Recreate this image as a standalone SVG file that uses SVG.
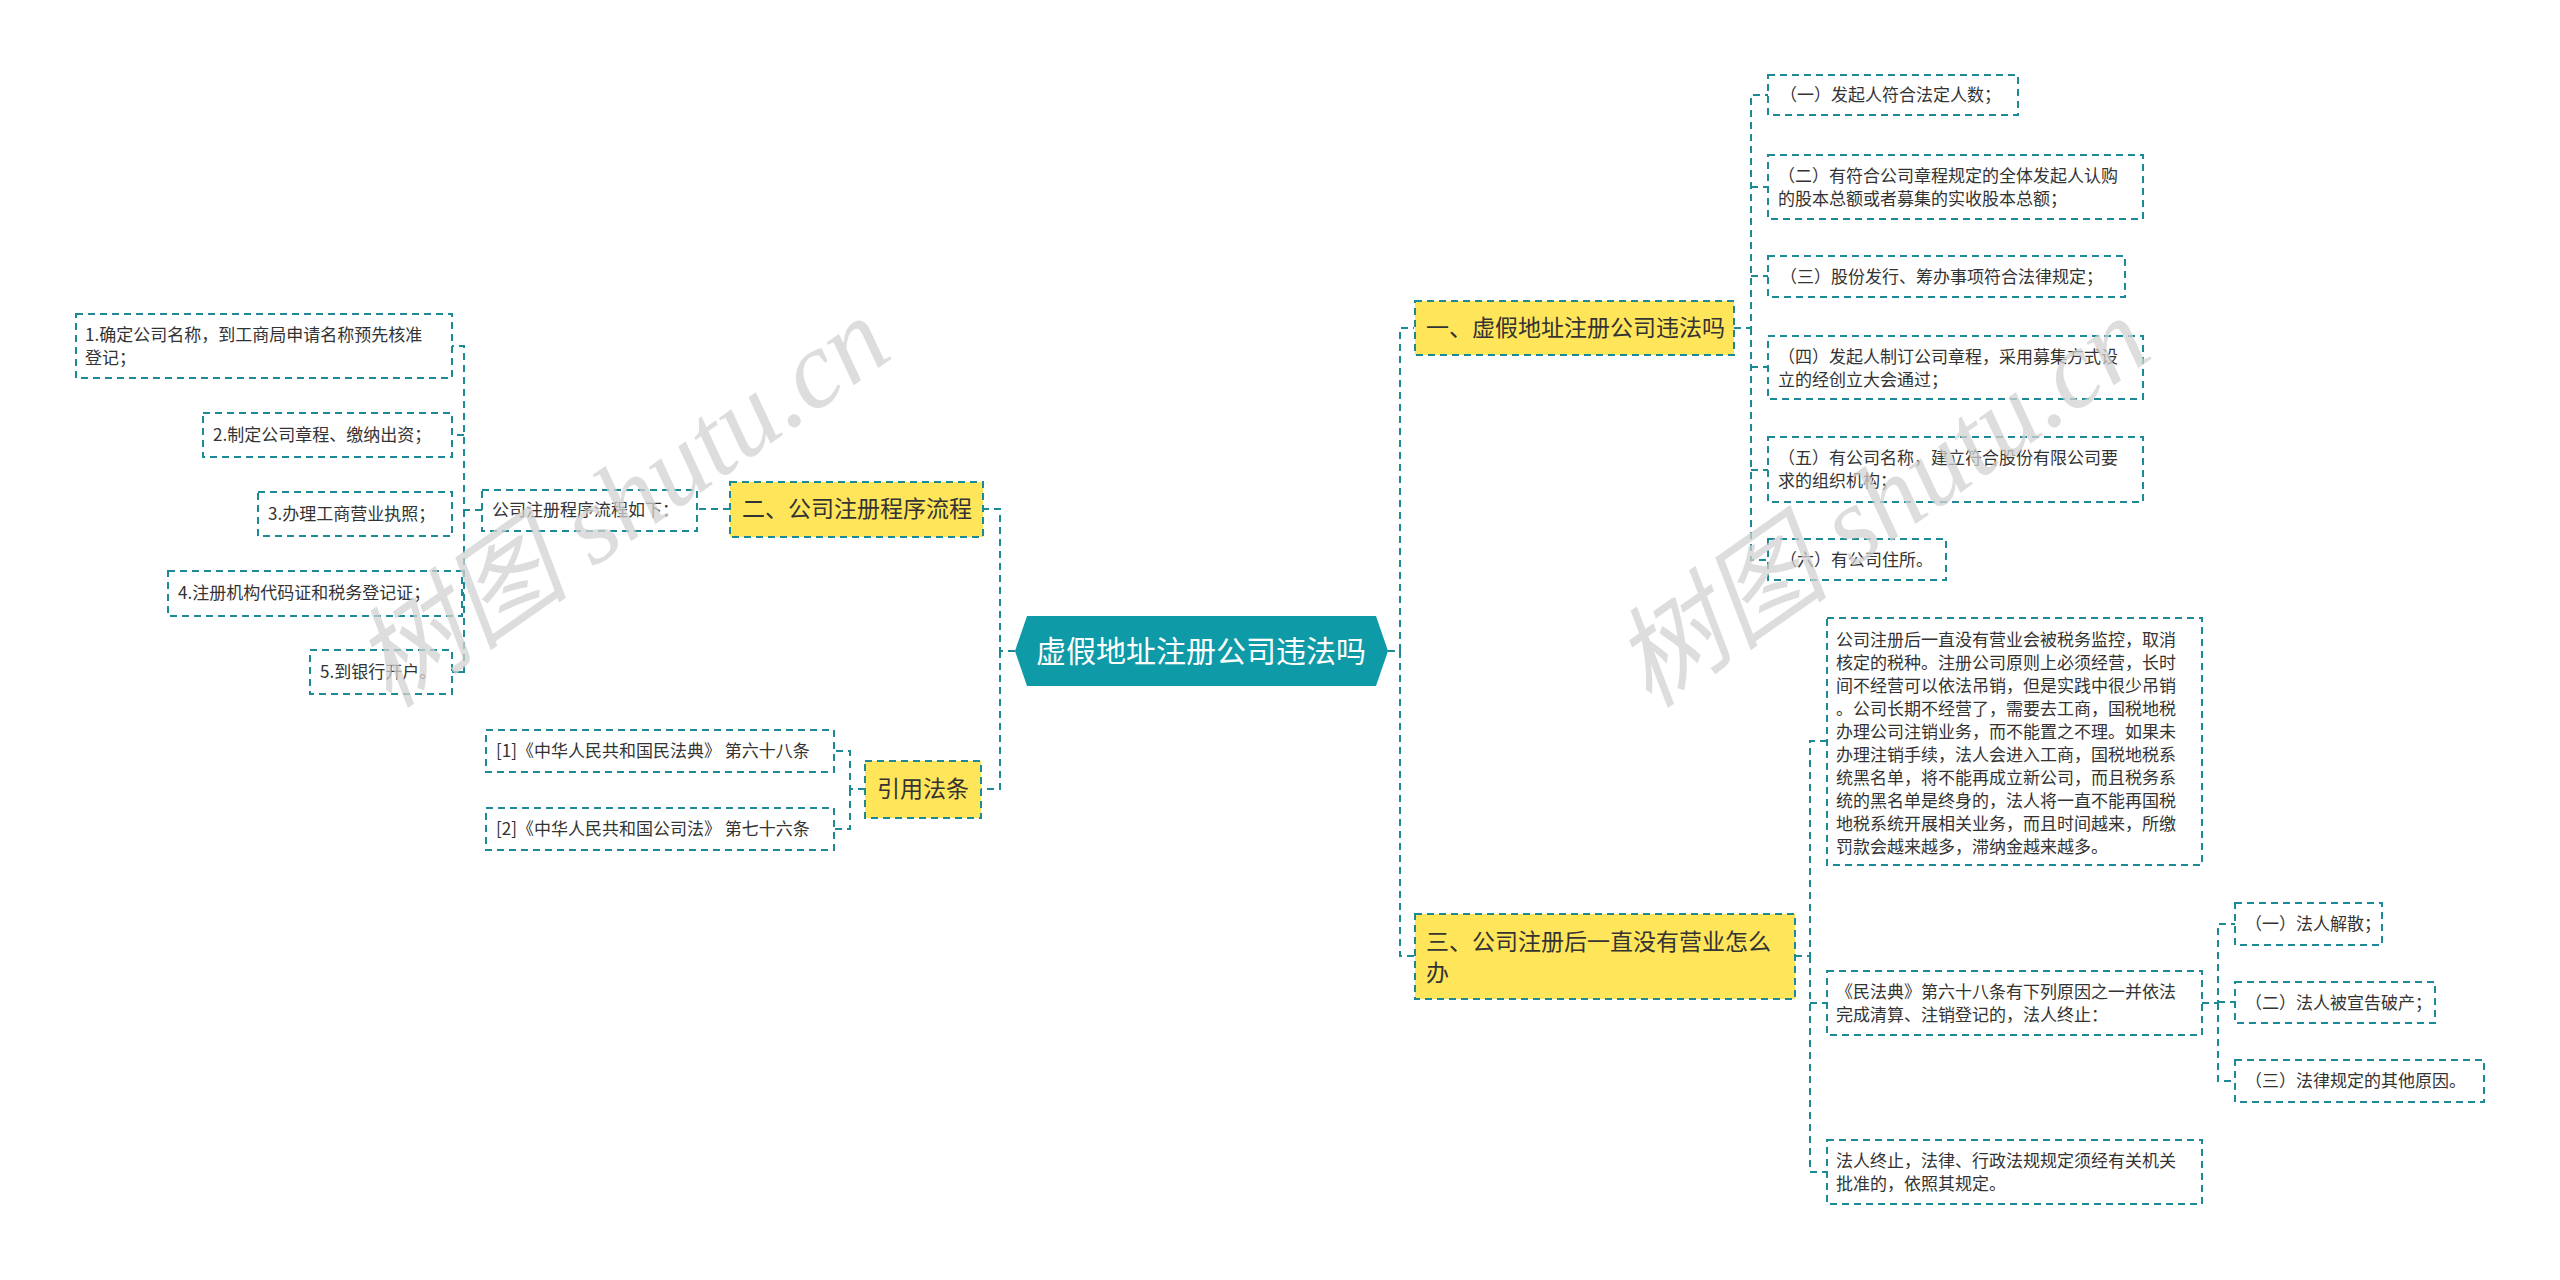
<svg xmlns="http://www.w3.org/2000/svg" width="2560" height="1280" viewBox="0 0 2560 1280">
<style>
.b{fill:#fff;stroke:#1b8a96;stroke-width:2;stroke-dasharray:7 5}
.y{fill:#ffe55a;stroke:#1b8a96;stroke-width:2;stroke-dasharray:7 5}
.c{fill:none;stroke:#1b8a96;stroke-width:2;stroke-dasharray:7 5}
text{font-family:"Noto Sans CJK SC","Noto Sans",sans-serif;fill:#333}
.s{font-size:17px}
.m{font-size:23px}
.w{font-family:"Liberation Serif","Noto Sans CJK SC",serif;font-style:italic;font-size:110px;fill:#d2d2d2;opacity:0.75}
</style>
<rect width="2560" height="1280" fill="#fff"/>
<g id="connectors">
<path class="c" d="M1015 651H1000V509H983M1000 651V789H981"/>
<path class="c" d="M1388 651H1400V328H1414M1400 651V956H1414"/>
<path class="c" d="M730 509H697"/>
<path class="c" d="M482 510H464V346H452M464 435H452M464 510V672H452M464 593H462M464 672H452"/>
<path class="c" d="M865 789H850V751H834M850 789V829H834"/>
<path class="c" d="M1734 328H1751V95H1768M1751 187H1768M1751 276H1768M1751 328V560H1768M1751 367H1768M1751 470H1768"/>
<path class="c" d="M1795 956H1810V741H1827M1810 956V1172H1827M1810 1003H1827"/>
<path class="c" d="M2202 1003H2218V924H2235M2218 1003V1081H2235M2218 1002H2235"/>
</g>
<g id="root"><polygon points="1027,616 1376,616 1388,651 1376,686 1027,686 1015,651" fill="#0e9aa7"/><text x="1201" y="662" font-size="30" text-anchor="middle" style="fill:#fff">虚假地址注册公司违法吗</text></g>
<g id="n2"><rect class="y" x="730" y="482" width="253" height="55"/><text class="m" x="742" y="517">二、公司注册程序流程</text></g>
<g id="n2a"><rect class="b" x="482" y="490" width="215" height="41"/><text class="s" x="492" y="516">公司注册程序流程如下：</text></g>
<g id="i1"><rect class="b" x="76" y="314" width="376" height="64"/><text class="s" x="85" y="341">1.确定公司名称，到工商局申请名称预先核准</text><text class="s" x="85" y="364">登记；</text></g>
<g id="i2"><rect class="b" x="203" y="413" width="249" height="44"/><text class="s" x="213" y="441">2.制定公司章程、缴纳出资；</text></g>
<g id="i3"><rect class="b" x="258" y="492" width="194" height="44"/><text class="s" x="268" y="520">3.办理工商营业执照；</text></g>
<g id="i4"><rect class="b" x="168" y="571" width="294" height="45"/><text class="s" x="178" y="599">4.注册机构代码证和税务登记证；</text></g>
<g id="i5"><rect class="b" x="310" y="650" width="142" height="44"/><text class="s" x="320" y="678">5.到银行开户。</text></g>
<g id="law"><rect class="y" x="865" y="761" width="116" height="57"/><text class="m" x="877" y="797">引用法条</text></g>
<g id="l1"><rect class="b" x="486" y="730" width="348" height="42"/><text class="s" x="496" y="757">[1]《中华人民共和国民法典》 第六十八条</text></g>
<g id="l2"><rect class="b" x="486" y="808" width="348" height="42"/><text class="s" x="496" y="835">[2]《中华人民共和国公司法》 第七十六条</text></g>
<g id="n1"><rect class="y" x="1415" y="301" width="319" height="54"/><text class="m" x="1426" y="336">一、虚假地址注册公司违法吗</text></g>
<g id="a1"><rect class="b" x="1768" y="75" width="250" height="40"/><text class="s" x="1780" y="101">（一）发起人符合法定人数；</text></g>
<g id="a2"><rect class="b" x="1768" y="155" width="375" height="64"/><text class="s" x="1778" y="182">（二）有符合公司章程规定的全体发起人认购</text><text class="s" x="1778" y="205">的股本总额或者募集的实收股本总额；</text></g>
<g id="a3"><rect class="b" x="1768" y="256" width="357" height="41"/><text class="s" x="1780" y="283">（三）股份发行、筹办事项符合法律规定；</text></g>
<g id="a4"><rect class="b" x="1768" y="336" width="375" height="63"/><text class="s" x="1778" y="363">（四）发起人制订公司章程，采用募集方式设</text><text class="s" x="1778" y="386">立的经创立大会通过；</text></g>
<g id="a5"><rect class="b" x="1768" y="437" width="375" height="65"/><text class="s" x="1778" y="464">（五）有公司名称，建立符合股份有限公司要</text><text class="s" x="1778" y="487">求的组织机构；</text></g>
<g id="a6"><rect class="b" x="1768" y="539" width="178" height="41"/><text class="s" x="1780" y="566">（六）有公司住所。</text></g>
<g id="n3"><rect class="y" x="1415" y="914" width="380" height="85"/><text class="m" x="1426" y="950">三、公司注册后一直没有营业怎么</text><text class="m" x="1426" y="981">办</text></g>
<g id="b1"><rect class="b" x="1827" y="618" width="375" height="247"/>
<text class="s" x="1836" y="646">公司注册后一直没有营业会被税务监控，取消</text>
<text class="s" x="1836" y="669">核定的税种。注册公司原则上必须经营，长时</text>
<text class="s" x="1836" y="692">间不经营可以依法吊销，但是实践中很少吊销</text>
<text class="s" x="1836" y="715">。公司长期不经营了，需要去工商，国税地税</text>
<text class="s" x="1836" y="738">办理公司注销业务，而不能置之不理。如果未</text>
<text class="s" x="1836" y="761">办理注销手续，法人会进入工商，国税地税系</text>
<text class="s" x="1836" y="784">统黑名单，将不能再成立新公司，而且税务系</text>
<text class="s" x="1836" y="807">统的黑名单是终身的，法人将一直不能再国税</text>
<text class="s" x="1836" y="830">地税系统开展相关业务，而且时间越来，所缴</text>
<text class="s" x="1836" y="853">罚款会越来越多，滞纳金越来越多。</text></g>
<g id="b2"><rect class="b" x="1827" y="971" width="375" height="64"/><text class="s" x="1836" y="998">《民法典》第六十八条有下列原因之一并依法</text><text class="s" x="1836" y="1021">完成清算、注销登记的，法人终止：</text></g>
<g id="b3"><rect class="b" x="1827" y="1140" width="375" height="64"/><text class="s" x="1836" y="1167">法人终止，法律、行政法规规定须经有关机关</text><text class="s" x="1836" y="1190">批准的，依照其规定。</text></g>
<g id="c1"><rect class="b" x="2235" y="903" width="147" height="42"/><text class="s" x="2245" y="930">（一）法人解散；</text></g>
<g id="c2"><rect class="b" x="2235" y="982" width="200" height="41"/><text class="s" x="2245" y="1009">（二）法人被宣告破产；</text></g>
<g id="c3"><rect class="b" x="2235" y="1060" width="249" height="42"/><text class="s" x="2245" y="1087">（三）法律规定的其他原因。</text></g>
<text class="w" transform="translate(390 710) rotate(-35)">树图 shutu.cn</text>
<text class="w" transform="translate(1650 710) rotate(-35)">树图 shutu.cn</text>
</svg>
